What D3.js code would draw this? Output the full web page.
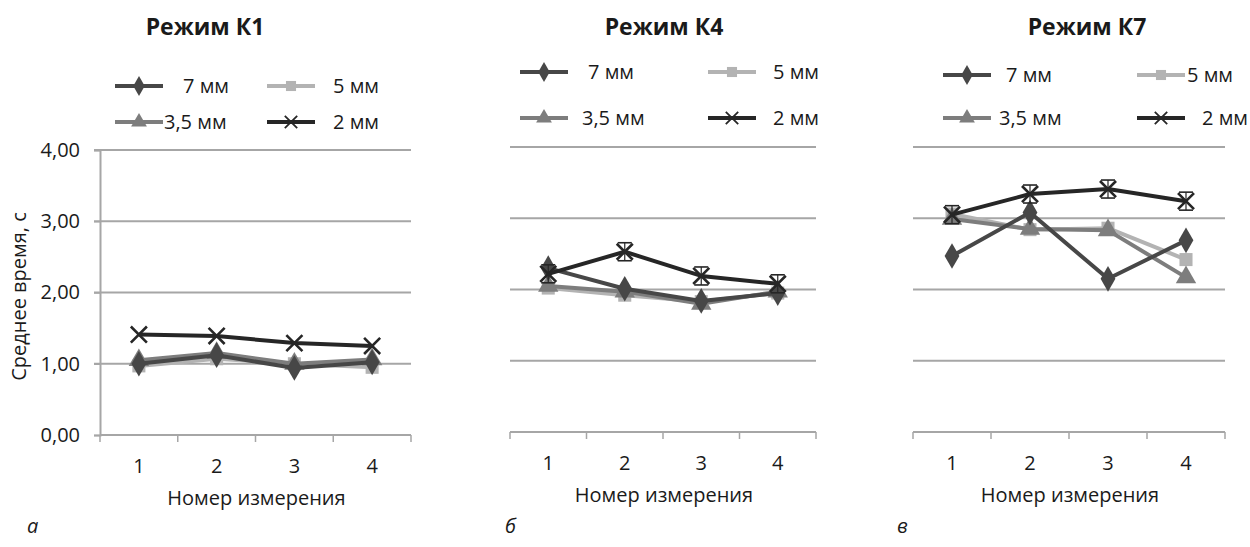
<!DOCTYPE html>
<html>
<head>
<meta charset="utf-8">
<script src="https://cdn.jsdelivr.net/npm/d3@7"></script>
<style>
  body { margin: 0; background: #fff; }
  svg { font-family: "Open Sans", "Noto Sans", sans-serif; }
</style>
</head>
<body>
<svg width="1250" height="547"></svg>
<script>
// data
let measures = [1, 2, 3, 4]
let seriesNames = ['7 мм', '5 мм', '3,5 мм', '2 мм']
let yTicks = [0, 1, 2, 3, 4]

let k1_7mm = [1.00, 1.12, 0.94, 1.02]
let k1_5mm = [0.97, 1.07, 1.00, 0.95]
let k1_35mm = [1.05, 1.15, 1.00, 1.06]
let k1_2mm = [1.41, 1.39, 1.29, 1.25]

let k4_7mm = [2.30, 2.01, 1.84, 1.95]
let k4_5mm = [2.02, 1.92, 1.83, 1.95]
let k4_35mm = [2.05, 1.97, 1.80, 1.97]
let k4_2mm = [2.22, 2.53, 2.19, 2.08]

let k7_7mm = [2.47, 3.08, 2.15, 2.69]
let k7_5mm = [3.06, 2.84, 2.86, 2.42]
let k7_35mm = [2.99, 2.85, 2.83, 2.17]
let k7_2mm = [3.05, 3.34, 3.41, 3.24]

let svg = d3.select('svg')

let fontSize = 20

// colours / markers per series
let colors = { '7 мм': '#474747', '5 мм': '#b3b3b3', '3,5 мм': '#7d7d7d', '2 мм': '#262626' }
let symbols = { '7 мм': d3.symbolDiamond, '5 мм': d3.symbolSquare, '3,5 мм': d3.symbolTriangle, '2 мм': d3.symbolX }
let symSize = { '7 мм': 190, '5 мм': 170, '3,5 мм': 180, '2 мм': 170 }

let panels = [
    { title: 'Режим К1', letter: 'а', x0: 100, x1: 411, yTop: 150, yBot: 435, titleX: 205, letterX: 27, yAxis: true, errBars: false,
      data: { '7 мм': k1_7mm, '5 мм': k1_5mm, '3,5 мм': k1_35mm, '2 мм': k1_2mm },
      legend: [ { x: 115, y: 86, tx: 183 }, { x: 267, y: 86, tx: 333 }, { x: 115, y: 122, tx: 164 }, { x: 267, y: 122, tx: 333 } ] },
    { title: 'Режим К4', letter: 'б', x0: 510, x1: 816, yTop: 147, yBot: 432, titleX: 664, letterX: 505, yAxis: false, errBars: true,
      data: { '7 мм': k4_7mm, '5 мм': k4_5mm, '3,5 мм': k4_35mm, '2 мм': k4_2mm },
      legend: [ { x: 520, y: 72, tx: 588 }, { x: 708, y: 72, tx: 773 }, { x: 520, y: 118, tx: 582 }, { x: 708, y: 118, tx: 773 } ] },
    { title: 'Режим К7', letter: 'в', x0: 913, x1: 1225, yTop: 147, yBot: 432, titleX: 1087, letterX: 897, yAxis: false, errBars: true,
      data: { '7 мм': k7_7mm, '5 мм': k7_5mm, '3,5 мм': k7_35mm, '2 мм': k7_2mm },
      legend: [ { x: 943, y: 75, tx: 1006 }, { x: 1137, y: 75, tx: 1187 }, { x: 943, y: 118, tx: 999 }, { x: 1137, y: 118, tx: 1202 } ] }
]

let drawOrder = ['5 мм', '3,5 мм', '7 мм', '2 мм']

panels.forEach(p => {
    let g = svg.append('g')
    let xScale = d3.scaleBand().domain(measures).range([p.x0, p.x1])
    let yScale = d3.scaleLinear().domain([0, 4]).range([p.yBot, p.yTop])

    // title
    g.append('text')
     .attr('x', p.titleX).attr('y', 35)
     .attr('text-anchor', 'middle')
     .attr('font-size', 23).attr('font-weight', 'bold').attr('fill', '#1a1a1a')
     .text(p.title)

    // gridlines (everything above 0)
    g.selectAll('.grid')
     .data(yTicks.filter(d => d > 0))
     .enter().append('line')
     .attr('x1', p.yAxis ? p.x0 - 6 : p.x0).attr('x2', p.x1)
     .attr('y1', d => yScale(d)).attr('y2', d => yScale(d))
     .attr('stroke', '#a6a6a6').attr('stroke-width', 2)

    // y axis only on the first panel
    if (p.yAxis) {
        let yAxis = d3.axisLeft(yScale).tickValues(yTicks).tickSize(6).tickFormat(d => d3.format('.2f')(d).replace('.', ','))
        let ya = g.append('g').attr('transform', 'translate(' + p.x0 + ',0)').call(yAxis)
        ya.select('.domain').attr('stroke', '#a6a6a6').attr('stroke-width', 2)
        ya.selectAll('.tick line').attr('stroke', '#a6a6a6').attr('stroke-width', 1.5)
        ya.selectAll('.tick text').attr('font-size', fontSize).attr('fill', '#1a1a1a').attr('x', -20).attr('font-family', '"Open Sans", sans-serif')

        g.append('text')
         .attr('transform', 'translate(26,' + ((p.yTop + p.yBot) / 2 + 4) + ') rotate(-90)')
         .attr('text-anchor', 'middle').attr('font-size', fontSize).attr('fill', '#1a1a1a')
         .text('Среднее время, с')
    }

    // x axis with ticks between categories
    let xa = g.append('g').attr('transform', 'translate(0,' + p.yBot + ')')
    xa.append('line').attr('x1', p.x0).attr('x2', p.x1).attr('stroke', '#a6a6a6').attr('stroke-width', 2)
    let edges = measures.map(m => xScale(m)).concat([p.x1])
    xa.selectAll('.xt').data(edges).enter().append('line')
      .attr('x1', d => d).attr('x2', d => d).attr('y1', 0).attr('y2', 7)
      .attr('stroke', '#a6a6a6').attr('stroke-width', 1.5)
    xa.selectAll('.xl').data(measures).enter().append('text')
      .attr('x', d => xScale(d) + xScale.bandwidth() / 2).attr('y', 38)
      .attr('text-anchor', 'middle').attr('font-size', fontSize).attr('fill', '#1a1a1a')
      .text(d => d)

    g.append('text')
     .attr('x', (p.x0 + p.x1) / 2 + 1).attr('y', p.yBot + 70)
     .attr('text-anchor', 'middle').attr('font-size', fontSize).attr('fill', '#1a1a1a')
     .text('Номер измерения')

    g.append('text')
     .attr('x', p.letterX).attr('y', 533)
     .attr('font-size', fontSize).attr('font-style', 'italic').attr('fill', '#1a1a1a')
     .text(p.letter)

    let line = d3.line()
                 .x((d, i) => xScale(measures[i]) + xScale.bandwidth() / 2)
                 .y(d => yScale(d))

    drawOrder.forEach(name => {
        let vals = p.data[name]
        g.append('path').datum(vals)
         .attr('d', line).attr('fill', 'none')
         .attr('stroke', colors[name]).attr('stroke-width', 4)
         .attr('stroke-linejoin', 'round')

        let pts = g.selectAll(null).data(vals).enter().append('g')
          .attr('transform', (d, i) => 'translate(' + (xScale(measures[i]) + xScale.bandwidth() / 2) + ',' + yScale(d) + ')')

        // small error bar caps on the 2 mm series of К4 / К7
        if (name === '2 мм' && p.errBars) {
            pts.append('line').attr('x1', 0).attr('x2', 0).attr('y1', -9).attr('y2', 9).attr('stroke', colors[name]).attr('stroke-width', 1.2)
            pts.append('line').attr('x1', -7).attr('x2', 7).attr('y1', -9).attr('y2', -9).attr('stroke', colors[name]).attr('stroke-width', 1.6)
            pts.append('line').attr('x1', -7).attr('x2', 7).attr('y1', 9).attr('y2', 9).attr('stroke', colors[name]).attr('stroke-width', 1.6)
        }

        let sym = d3.symbol().type(symbols[name]).size(symSize[name])
        if (name === '2 мм') {
            pts.append('path').attr('d', sym).attr('fill', 'none')
               .attr('stroke', colors[name]).attr('stroke-width', 2.6)
        } else {
            pts.append('path').attr('d', sym).attr('fill', colors[name])
        }
    })

    // legend
    seriesNames.forEach((name, i) => {
        let L = p.legend[i]
        let lg = g.append('g')
        lg.append('line').attr('x1', L.x).attr('x2', L.x + 48).attr('y1', L.y).attr('y2', L.y)
          .attr('stroke', colors[name]).attr('stroke-width', 4)
        let sym = d3.symbol().type(symbols[name]).size(symSize[name] * 0.6)
        let mk = lg.append('path').attr('d', sym).attr('transform', 'translate(' + (L.x + 24) + ',' + L.y + ')')
        if (name === '2 мм') {
            mk.attr('fill', 'none').attr('stroke', colors[name]).attr('stroke-width', 1.8)
        } else {
            mk.attr('fill', colors[name])
        }
        lg.append('text').attr('x', L.tx).attr('y', L.y + 7)
          .attr('font-size', fontSize).attr('fill', '#1a1a1a')
          .text(name)
    })
})
</script>
</body>
</html>
